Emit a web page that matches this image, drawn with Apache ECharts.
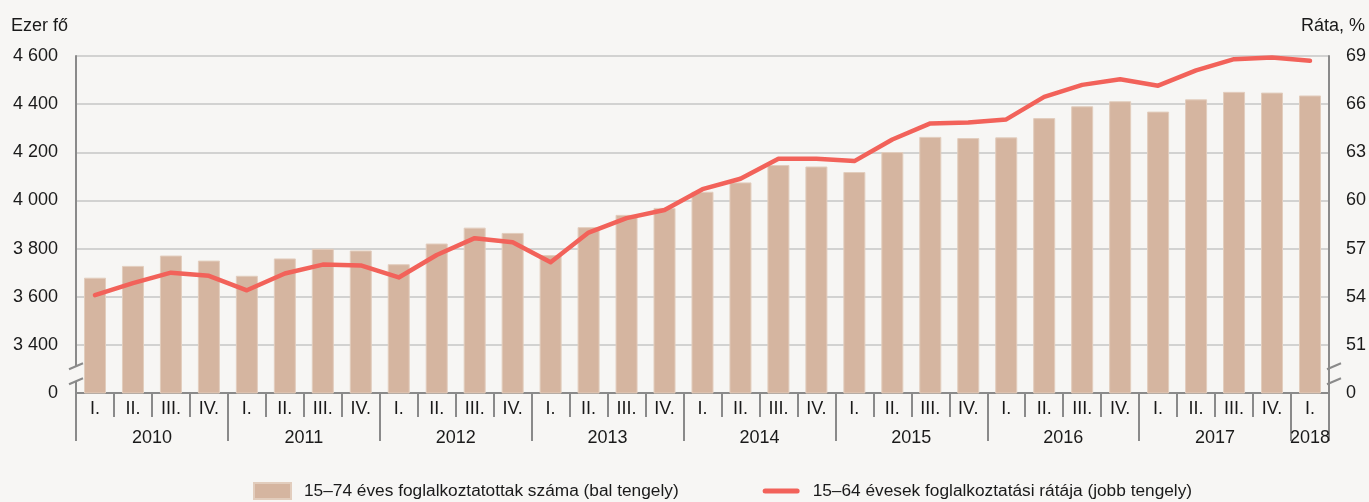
<!DOCTYPE html>
<html>
<head>
<meta charset="utf-8">
<script src="https://cdn.jsdelivr.net/npm/echarts@6/dist/echarts.min.js"></script>
<style>
    html, body {margin: 0; padding: 0; background: #f7f6f4;}
    #chartBox {width: 1369px; height: 502px;}
</style>
</head>
<body>
<div id="chartBox"></div>
<script>
// évek és negyedévek
const years = ['2010', '2011', '2012', '2013', '2014', '2015', '2016', '2017', '2018'];
const quartersPerYear = [4, 4, 4, 4, 4, 4, 4, 4, 1];
const quarterNames = ['I.', 'II.', 'III.', 'IV.'];
// 15–74 éves foglalkoztatottak száma, ezer fő
const employed = [3679, 3728, 3771, 3750, 3687, 3759, 3799, 3792, 3735, 3821, 3887, 3865, 3773, 3889, 3940, 3969,
    4036, 4075, 4147, 4141, 4118, 4201, 4264, 4259, 4262, 4342, 4391, 4412, 4369, 4420, 4451, 4448, 4436];
// 15–64 évesek foglalkoztatási rátája, %
const rate = [54.1, 54.85, 55.5, 55.3, 54.4, 55.45, 56.0, 55.95, 55.2, 56.6, 57.65, 57.4, 56.15, 58.0, 58.9, 59.4,
    60.7, 61.35, 62.6, 62.6, 62.45, 63.8, 64.8, 64.85, 65.05, 66.45, 67.2, 67.55, 67.15, 68.1, 68.8, 68.9, 68.7];
const barName = '15–74 éves foglalkoztatottak száma (bal tengely)';
const lineName = '15–64 évesek foglalkoztatási rátája (jobb tengely)';

const font = "'Liberation Sans', Arial, sans-serif";
const axisGray = '#8a8a8a';
const bg = '#f7f6f4';
// vastag, lekerekített vonal ikon a jelmagyarázatba (a sarokpontok csak a befoglaló méretet adják)
const lineIcon = 'path://M0,0 L0.01,0 L0,0.01 Z M37,16 L36.99,16 L37,15.99 Z ' +
    'M2.5,5.5 L34.5,5.5 A2.5,2.5 0 0 1 34.5,10.5 L2.5,10.5 A2.5,2.5 0 0 1 2.5,5.5 Z';

// negyedéves kategóriák, és a félnegyedéves pontok az évtengelyhez
let quarters = [];
let yearPoints = [];
let yearBounds = {};
let start = 0;
years.forEach(function (y, i) {
    for (let q = 0; q < quartersPerYear[i]; q++) quarters.push(quarterNames[q]);
    yearBounds[2 * start] = true;
    start += quartersPerYear[i];
});
yearBounds[2 * start] = true;
for (let k = 0; k <= 2 * start; k++) yearPoints.push('');
start = 0;
years.forEach(function (y, i) {
    yearPoints[2 * start + quartersPerYear[i]] = y;
    start += quartersPerYear[i];
});

let chartBox = echarts.init(document.getElementById('chartBox'));
let option = {
    backgroundColor: bg,
    textStyle: {fontFamily: font},
    title: [
        {text: 'Ezer fő', left: 6, top: 12, textStyle: {fontFamily: font, fontSize: 18, fontWeight: 'normal', color: '#1a1a1a'}},
        {text: 'Ráta, %', right: -1, top: 12, textStyle: {fontFamily: font, fontSize: 18, fontWeight: 'normal', color: '#1a1a1a'}}
    ],
    grid: {left: 76, right: 35, top: 56, bottom: 109},
    legend: {
        top: 477, left: 248, itemGap: 84, itemWidth: 37, itemHeight: 16,
        textStyle: {fontFamily: font, fontSize: 17.3, color: '#1a1a1a', padding: [0, 0, 0, 8]},
        data: [{name: barName, icon: 'rect'}, {name: lineName, icon: lineIcon}]
    },
    xAxis: [{
        type: 'category', data: quarters, position: 'bottom', boundaryGap: true,
        axisLine: {show: true, lineStyle: {color: axisGray, width: 2}},
        axisTick: {show: true, interval: 0, length: 24, lineStyle: {color: axisGray, width: 2}},
        axisLabel: {interval: 0, margin: 7, color: '#1a1a1a', fontSize: 18, fontFamily: font},
        splitLine: {show: false}
    }, {
        type: 'category', data: yearPoints, position: 'bottom', boundaryGap: false,
        axisLine: {show: false},
        axisTick: {
            show: true, length: 48, lineStyle: {color: axisGray, width: 2},
            interval: function (index) { return !!yearBounds[index]; }
        },
        axisLabel: {interval: 0, margin: 36, color: '#1a1a1a', fontSize: 18, fontFamily: font},
        splitLine: {show: false}
    }],
    yAxis: [{
        type: 'value', min: 3200, max: 4600, interval: 200,
        axisLine: {show: true, lineStyle: {color: axisGray, width: 2}},
        axisTick: {show: false},
        axisLabel: {
            margin: 18, color: '#1a1a1a', fontSize: 18, fontFamily: font,
            formatter: function (v) {
                return v === 3200 ? '0' : String(v).replace(/\B(?=(\d{3})+(?!\d))/g, ' ');
            }
        },
        splitLine: {show: true, lineStyle: {color: '#c6c6c6', width: 1.5}}
    }, {
        type: 'value', min: 48, max: 69, interval: 3, position: 'right',
        axisLine: {show: true, lineStyle: {color: axisGray, width: 2}},
        axisTick: {show: false},
        axisLabel: {
            margin: 17, color: '#1a1a1a', fontSize: 18, fontFamily: font,
            formatter: function (v) { return v === 48 ? '0' : String(v); }
        },
        splitLine: {show: false}
    }],
    series: [{
        name: barName, type: 'bar', data: employed, xAxisIndex: 0, yAxisIndex: 0,
        barWidth: 22,
        itemStyle: {color: '#d5b5a0', borderColor: '#e2cdbd', borderWidth: 1},
        z: 2
    }, {
        name: lineName, type: 'line', data: rate, xAxisIndex: 0, yAxisIndex: 1,
        symbol: 'none', smooth: false,
        lineStyle: {color: '#f2625a', width: 4.5, cap: 'round', join: 'round'},
        itemStyle: {color: '#f2625a'},
        z: 3
    }]
};
chartBox.setOption(option, true);

// tengelytörés jelölése mindkét oldalon
let breakY = chartBox.convertToPixel({yAxisIndex: 0}, 3280);
let gridLeft = 76, gridRight = 1369 - 35;
let breakMarks = [];
[gridLeft, gridRight].forEach(function (x) {
    breakMarks.push({
        type: 'polygon', z: 100,
        shape: {points: [[x - 4, breakY - 6], [x + 4, breakY - 9], [x + 4, breakY + 6], [x - 4, breakY + 9]]},
        style: {fill: bg}
    });
    [-7.5, 7.5].forEach(function (d) {
        breakMarks.push({
            type: 'line', z: 101,
            shape: {x1: x - 7, y1: breakY + d + 3, x2: x + 7, y2: breakY + d - 3},
            style: {stroke: axisGray, lineWidth: 2}
        });
    });
});
chartBox.setOption({graphic: breakMarks});
</script>
</body>
</html>
